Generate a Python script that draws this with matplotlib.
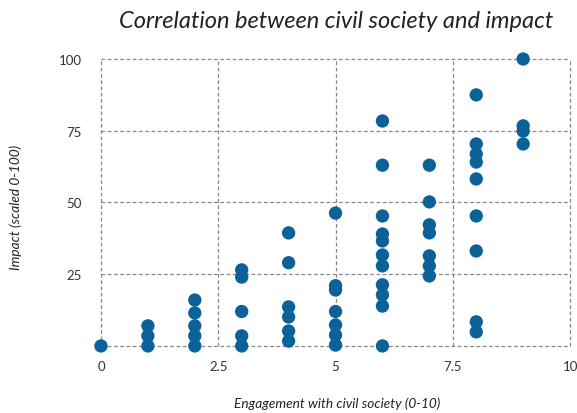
import matplotlib.pyplot as plt
import numpy as np

# engagement score (0-10) and impact (0-100)
engagement = [0,
              1, 1, 1,
              2, 2, 2, 2, 2,
              3, 3, 3, 3, 3,
              4, 4, 4, 4, 4, 4,
              5, 5, 5, 5, 5, 5, 5,
              6, 6, 6, 6, 6, 6, 6, 6, 6, 6, 6,
              7, 7, 7, 7, 7, 7, 7,
              8, 8, 8, 8, 8, 8, 8, 8, 8,
              9, 9, 9, 9]
impact = [0,
          7, 3.5, 0,
          16, 11.5, 7, 3.5, 0,
          26.5, 24, 12, 3.5, 0,
          39.4, 29, 13.6, 10.1, 5.2, 1.7,
          46.3, 21, 19.5, 12, 7.3, 3.8, 0.3,
          78.4, 63, 45.3, 39, 36.6, 31.7, 27.9, 21.3, 17.8, 13.9, 0,
          63, 50.2, 42.2, 39.4, 31.4, 27.9, 24.4,
          87.5, 70.4, 66.9, 64.1, 58.2, 45.3, 33.1, 8.4, 4.9,
          100, 76.7, 74.9, 70.4]

x_ticks = [0, 2.5, 5, 7.5, 10]
x_labels = ["0", "2.5", "5", "7.5", "10"]
y_ticks = [0, 25, 50, 75, 100]
y_labels = ["", "25", "50", "75", "100"]

plt.rcParams['font.family'] = ['Lato', 'DejaVu Sans']

fig = plt.figure(figsize=(5.77, 4.14), dpi=100)
ax = fig.add_axes([0.175, 0.162, 0.813, 0.693])

ax.scatter(engagement, impact, s=92, color='#0a6299', edgecolors='none',
           clip_on=False, zorder=3)

ax.set_xlim(0, 10)
ax.set_ylim(0, 100)
ax.set_xticks(x_ticks)
ax.set_xticklabels(x_labels)
ax.set_yticks(y_ticks)
ax.set_yticklabels(y_labels)
ax.tick_params(length=0, labelsize=9.5, colors='#333333')
ax.tick_params(axis='x', pad=10)
ax.tick_params(axis='y', pad=14)

ax.grid(True, linestyle=(0, (3, 2)), color='#888888', linewidth=0.9)
for gl in ax.get_xgridlines() + ax.get_ygridlines():
    gl.set_clip_on(False)
for s in ax.spines.values():
    s.set_visible(False)

fig.text(0.582, 0.947, "Correlation between civil society and impact",
         ha='center', va='center', fontsize=17, style='italic', color='#222222')
fig.text(0.584, 0.024, "Engagement with civil society (0-10)",
         ha='center', va='center', fontsize=9.8, style='italic', color='#222222')
fig.text(0.027, 0.5, "Impact (scaled 0-100)", rotation=90,
         ha='center', va='center', fontsize=9.8, style='italic', color='#222222')

fig.savefig("out.png", dpi=100)
